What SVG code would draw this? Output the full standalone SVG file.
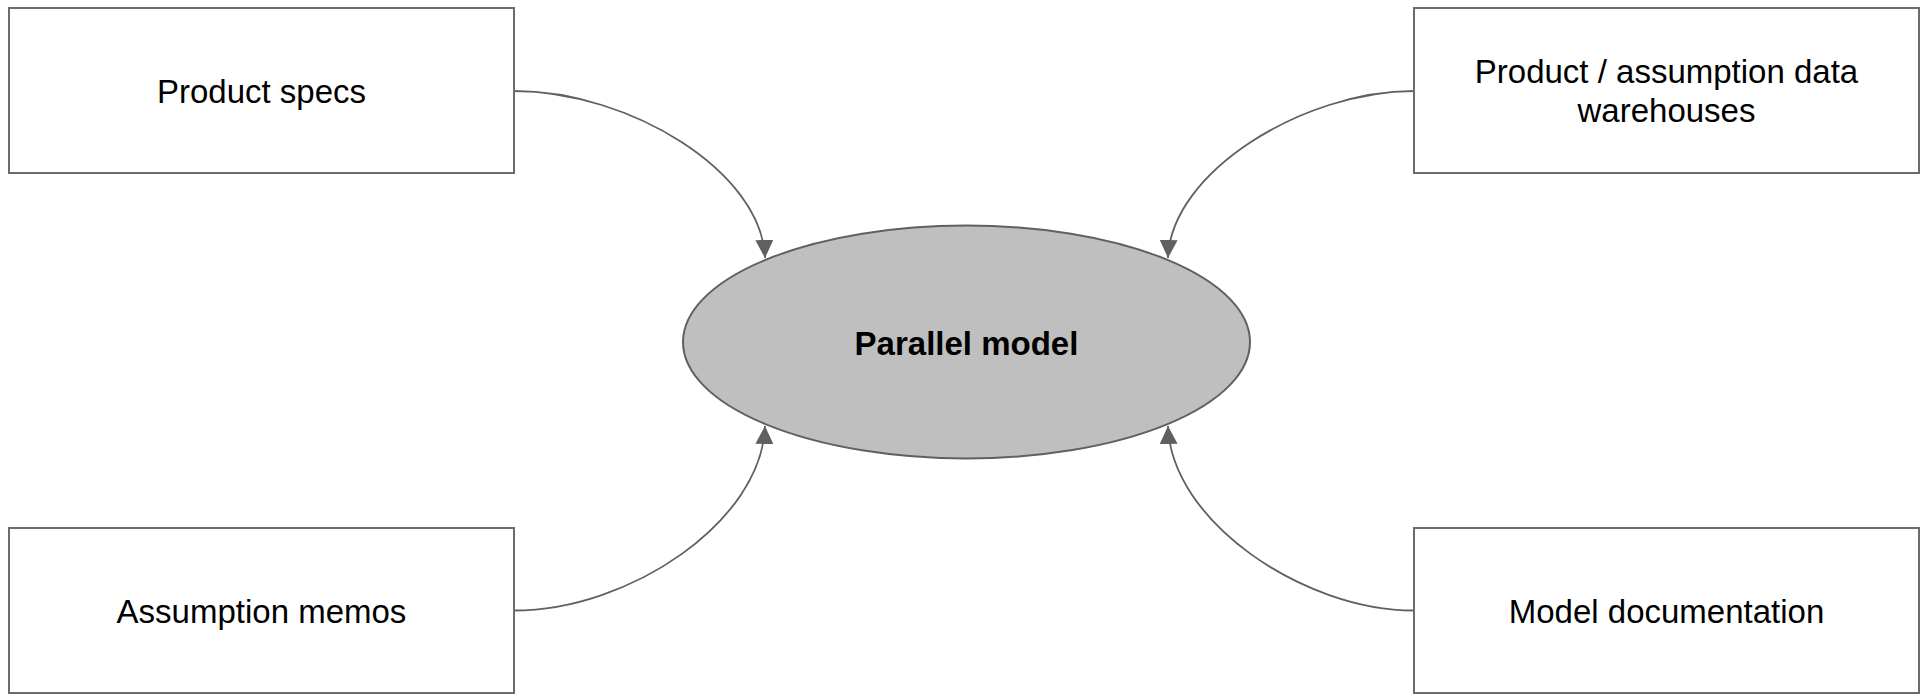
<svg xmlns="http://www.w3.org/2000/svg" width="1923" height="696" viewBox="0 0 1923 696">
<style>
.box{fill:#ffffff;stroke:#6b6b6b;stroke-width:2}
.lbl{font-family:"Liberation Sans",Arial,sans-serif;font-size:33px;fill:#000000;text-anchor:middle}
.conn{fill:none;stroke:#606060;stroke-width:1.8}
</style>
<defs>
<marker id="arrow" markerUnits="userSpaceOnUse" markerWidth="18" markerHeight="18" viewBox="0 0 16 16" refX="16" refY="8" orient="auto">
<path d="M0,0 L16,8 L0,16 Z" fill="#606060"/>
</marker>
</defs>
<rect width="1923" height="696" fill="#ffffff"/>
<g id="connectors">
<path class="conn" d="M514,91 C630,91 762,172 765,258" marker-end="url(#arrow)"/>
<path class="conn" d="M1414,91 C1303,91 1171,172 1168,258" marker-end="url(#arrow)"/>
<path class="conn" d="M514,610.5 C630,610.5 762,521 765,426" marker-end="url(#arrow)"/>
<path class="conn" d="M1414,610.5 C1303,610.5 1171,521 1168,426" marker-end="url(#arrow)"/>
</g>
<g id="node-product-specs">
<rect class="box" x="9" y="8" width="505" height="165"/>
<text class="lbl" x="261.5" y="103">Product specs</text>
</g>
<g id="node-data-warehouses">
<rect class="box" x="1414" y="8" width="505" height="165"/>
<text class="lbl" x="1666.5" y="83">Product / assumption data</text>
<text class="lbl" x="1666.5" y="122">warehouses</text>
</g>
<g id="node-assumption-memos">
<rect class="box" x="9" y="528" width="505" height="165"/>
<text class="lbl" x="261.5" y="623">Assumption memos</text>
</g>
<g id="node-model-documentation">
<rect class="box" x="1414" y="528" width="505" height="165"/>
<text class="lbl" x="1666.5" y="623">Model documentation</text>
</g>
<g id="node-parallel-model">
<ellipse cx="966.5" cy="342" rx="283.5" ry="116.5" fill="#bfbfbf" stroke="#606060" stroke-width="2"/>
<text class="lbl" x="966.5" y="355" font-weight="bold">Parallel model</text>
</g>
</svg>
